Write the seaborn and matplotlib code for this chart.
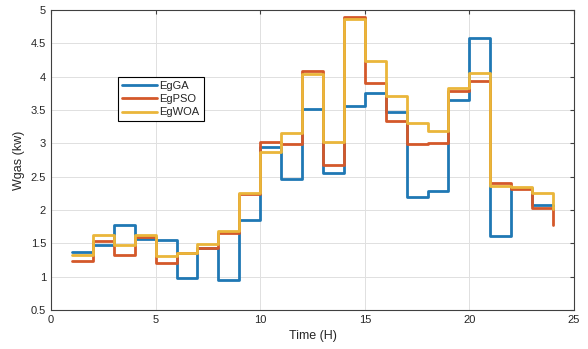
import numpy as np
import pandas as pd
import matplotlib
matplotlib.use("Agg")
import matplotlib.pyplot as plt
import seaborn as sns

# Datos (stairs, hora 1..24)
horas = list(range(1, 25))
eg_ga = [1.375, 1.475, 1.77, 1.57, 1.55, 0.985, 1.425, 0.95, 1.85, 2.95, 2.465, 3.52,
         2.55, 3.56, 3.76, 3.465, 2.2, 2.28, 3.65, 4.575, 1.615, 2.325, 2.07, 2.06]
eg_pso = [1.24, 1.54, 1.325, 1.59, 1.2, 1.35, 1.425, 1.66, 2.24, 3.02, 2.985, 4.09,
          2.68, 4.89, 3.9, 3.34, 2.985, 3.005, 3.785, 3.94, 2.4, 2.315, 2.03, 1.78]
eg_woa = [1.32, 1.62, 1.475, 1.62, 1.31, 1.36, 1.485, 1.68, 2.26, 2.87, 3.16, 4.04,
          3.025, 4.86, 4.235, 3.715, 3.31, 3.19, 3.825, 4.06, 2.365, 2.35, 2.25, 2.02]
metodos = ["EgGA", "EgPSO", "EgWOA"]
colores = ["#1f78b4", "#d4582a", "#eab63a"]

df = pd.DataFrame({
    "hora": horas * 3,
    "valor": eg_ga + eg_pso + eg_woa,
    "metodo": sum([[m] * len(horas) for m in metodos], []),
})

sns.set_style("whitegrid")
plt.rcParams['font.family'] = ['Liberation Sans', 'DejaVu Sans']
plt.rcParams['font.size'] = 8

fig = plt.figure(figsize=(5.88, 3.49), dpi=100)
ax = fig.add_axes([0.0867, 0.1117, 0.8895, 0.8596])

sns.lineplot(data=df, x="hora", y="valor", hue="metodo", palette=colores,
             drawstyle="steps-post", linewidth=2, ax=ax, sort=False)

ax.set_xlim(0, 25)
ax.set_ylim(0.5, 5)
ax.set_xticks(np.arange(0, 26, 5))
ax.set_yticks(np.arange(0.5, 5.01, 0.5))
ax.set_yticklabels(["0.5", "1", "1.5", "2", "2.5", "3", "3.5", "4", "4.5", "5"])
ax.set_xlabel("Time (H)", fontsize=9, color="#262626")
ax.set_ylabel("Wgas (kw)", fontsize=9, color="#262626")
ax.grid(True, color="#e0e0e0", linewidth=0.7)
for s in ax.spines.values():
    s.set_visible(True)
    s.set_color("#404040")
    s.set_linewidth(0.8)
ax.tick_params(direction="in", length=3, color="#404040", labelcolor="#262626",
               top=True, right=True, labelsize=8)

leg = ax.legend(loc="upper left", bbox_to_anchor=(0.128, 0.777), frameon=True,
                fancybox=False, edgecolor="black", fontsize=8, borderpad=0.35,
                borderaxespad=0, labelspacing=0.3, handlelength=3.2,
                handletextpad=0.2)
leg.get_frame().set_linewidth(0.8)
leg.get_frame().set_alpha(1)

plt.savefig("out.png", dpi=100)
